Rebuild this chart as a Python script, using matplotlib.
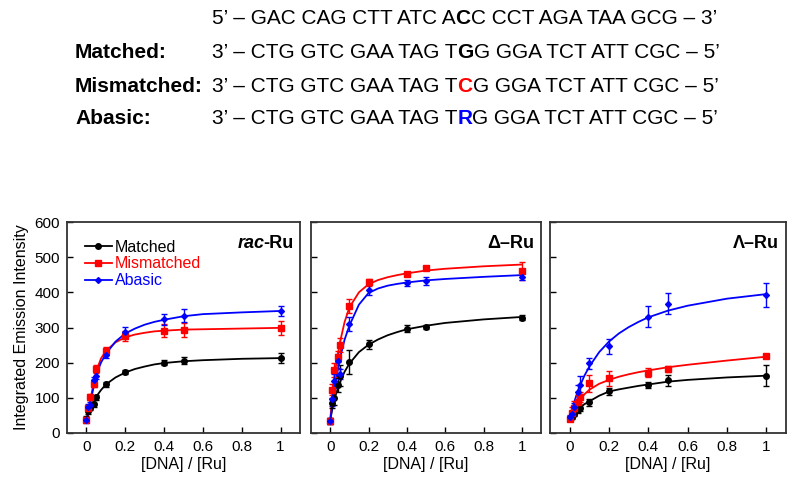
import matplotlib
matplotlib.use("Agg")
import matplotlib.pyplot as plt
from matplotlib.lines import Line2D

plt.rcParams['font.family'] = ['Liberation Sans', 'DejaVu Sans']

# ratio [DNA]/[Ru] for measured points
ratio = [0, 0.01, 0.02, 0.04, 0.05, 0.1, 0.2, 0.4, 0.5, 1.0]
fit_ratio = [0, 0.01, 0.02, 0.03, 0.05, 0.075, 0.1, 0.15, 0.2, 0.25, 0.3, 0.35, 0.4, 0.5, 0.6, 0.8, 1.0]

# rac-Ru
rac_matched = [40, 62, 72, 83, 101, 138, 173, 200, 205, 213]
rac_matched_err = [8, 8, 8, 10, 8, 6, 5, 8, 10, 15]
rac_mismatched = [38, 70, 102, 140, 182, 234, 276, 291, 293, 298]
rac_mismatched_err = [8, 8, 8, 10, 10, 10, 15, 18, 20, 20]
rac_abasic = [36, 74, 80, 150, 163, 223, 287, 323, 334, 347]
rac_abasic_err = [8, 8, 8, 10, 10, 10, 15, 15, 18, 15]
rac_matched_fit = [38, 55, 70, 83, 103, 122, 138, 158, 172, 182, 189, 195, 199, 204, 207, 211, 213]
rac_mismatched_fit = [35, 60, 92, 122, 175, 212, 233, 258, 272, 280, 285, 289, 291, 294, 295, 297, 299]
rac_abasic_fit = [35, 58, 85, 112, 165, 200, 225, 260, 283, 297, 308, 316, 322, 332, 338, 343, 347]

# Delta-Ru
delta_matched = [35, 85, 100, 137, 163, 202, 252, 297, 302, 328]
delta_matched_err = [8, 15, 20, 20, 30, 35, 12, 10, 5, 8]
delta_mismatched = [35, 123, 178, 217, 251, 360, 428, 451, 468, 461]
delta_mismatched_err = [8, 15, 20, 15, 20, 20, 10, 5, 5, 25]
delta_abasic = [35, 97, 147, 204, 168, 309, 408, 426, 432, 445]
delta_abasic_err = [8, 20, 20, 20, 15, 20, 15, 8, 12, 10]
delta_matched_fit = [35, 65, 89, 110, 143, 174, 197, 230, 251, 266, 278, 287, 295, 305, 313, 323, 330]
delta_mismatched_fit = [35, 100, 150, 190, 255, 315, 357, 400, 423, 435, 443, 449, 454, 462, 467, 474, 479]
delta_abasic_fit = [35, 75, 115, 150, 210, 265, 305, 365, 398, 411, 419, 424, 428, 434, 438, 444, 449]

# Lambda-Ru
lambda_matched = [42, 46, 55, 66, 71, 88, 119, 136, 150, 163]
lambda_matched_err = [6, 6, 8, 8, 8, 10, 10, 8, 16, 30]
lambda_mismatched = [41, 58, 70, 89, 102, 141, 155, 172, 182, 220]
lambda_mismatched_err = [6, 15, 20, 20, 15, 25, 20, 14, 8, 5]
lambda_abasic = [45, 55, 74, 117, 136, 198, 246, 331, 367, 393]
lambda_abasic_err = [6, 8, 10, 20, 25, 15, 20, 29, 30, 34]
lambda_matched_fit = [40, 48, 55, 62, 72, 82, 90, 106, 118, 124, 129, 134, 138, 146, 151, 158, 163]
lambda_mismatched_fit = [40, 52, 63, 73, 92, 110, 123, 140, 151, 160, 167, 173, 178, 187, 194, 206, 217]
lambda_abasic_fit = [40, 62, 82, 100, 131, 163, 189, 230, 260, 283, 301, 316, 329, 348, 362, 382, 395]

series_names = ['Matched', 'Mismatched', 'Abasic']
colors = ['black', '#ff0000', '#0000ff']
markers = ['o', 's', 'D']
msizes = [4, 5, 3]

panels = [
    ('rac', [(rac_matched, rac_matched_err, rac_matched_fit),
             (rac_mismatched, rac_mismatched_err, rac_mismatched_fit),
             (rac_abasic, rac_abasic_err, rac_abasic_fit)]),
    ('\u0394\u2013Ru', [(delta_matched, delta_matched_err, delta_matched_fit),
                        (delta_mismatched, delta_mismatched_err, delta_mismatched_fit),
                        (delta_abasic, delta_abasic_err, delta_abasic_fit)]),
    ('\u039b\u2013Ru', [(lambda_matched, lambda_matched_err, lambda_matched_fit),
                        (lambda_mismatched, lambda_mismatched_err, lambda_mismatched_fit),
                        (lambda_abasic, lambda_abasic_err, lambda_abasic_fit)]),
]

W, H = 795, 479
fig = plt.figure(figsize=(W / 100, H / 100), dpi=100)

# panel pixel boxes (left, right)
boxes = [(67, 300), (311, 541), (550, 786)]
top, bottom = 222, 433
title_y = (bottom - 243) / (bottom - top)

for k, (title, data) in enumerate(panels):
    l, r = boxes[k]
    ax = fig.add_axes([l / W, 1 - bottom / H, (r - l) / W, (bottom - top) / H])
    for i, (y, err, fit) in enumerate(data):
        ax.plot(fit_ratio, fit, color=colors[i], lw=1.3, zorder=2)
        ax.errorbar(ratio, y, yerr=err, fmt=markers[i], color=colors[i], ms=msizes[i],
                    capsize=2.5, elinewidth=1, capthick=1, zorder=3)
    ax.set_xlim(-0.1, 1.1)
    ax.set_ylim(0, 600)
    ax.set_xticks([0, 0.2, 0.4, 0.6, 0.8, 1])
    ax.set_xticklabels(['0', '0.2', '0.4', '0.6', '0.8', '1'])
    ax.set_yticks([0, 100, 200, 300, 400, 500, 600])
    ax.tick_params(direction='in', length=4, width=1, labelsize=11, pad=5)
    for s in ax.spines.values():
        s.set_linewidth(1.3)
        s.set_color('#333333')
    ax.set_xlabel('[DNA] / [Ru]', fontsize=11.5, labelpad=2)
    if k == 0:
        ax.set_ylabel('Integrated Emission Intensity', fontsize=11.5, labelpad=4)
        t = ax.text(0.97, title_y, '-Ru', transform=ax.transAxes, ha='right', va='center',
                    fontsize=13, fontweight='bold')
        ax.annotate('rac', xy=(0, 0), xycoords=t, xytext=(1.5, 0), textcoords='offset points',
                    ha='right', va='bottom', fontsize=13, fontweight='bold', fontstyle='italic')
        handles = [Line2D([], [], color=colors[i], marker=markers[i], ms=msizes[i], lw=1.3)
                   for i in range(3)]
        ax.legend(handles, series_names, loc='upper left', frameon=False, fontsize=11.5,
                  handlelength=1.7, handletextpad=0.2, labelspacing=0.12,
                  borderaxespad=0.9, borderpad=0.2, labelcolor=colors)
    else:
        ax.set_yticklabels([])
        ax.text(0.97, title_y, title, transform=ax.transAxes, ha='right', va='center',
                fontsize=13, fontweight='bold')

# sequence block on top
seq_rows = [
    ('', ['5\u2019 \u2013 GAC CAG CTT ATC A', 'C', 'C CCT AGA TAA GCG \u2013 3\u2019'], 'black'),
    ('Matched:', ['3\u2019 \u2013 CTG GTC GAA TAG T', 'G', 'G GGA TCT ATT CGC \u2013 5\u2019'], 'black'),
    ('Mismatched:', ['3\u2019 \u2013 CTG GTC GAA TAG T', 'C', 'G GGA TCT ATT CGC \u2013 5\u2019'], '#ff0000'),
    ('Abasic:', ['3\u2019 \u2013 CTG GTC GAA TAG T', 'R', 'G GGA TCT ATT CGC \u2013 5\u2019'], '#0000ff'),
]
row_y = [19, 53, 86, 119]
fs = 15
for (label, parts, hl), yy in zip(seq_rows, row_y):
    yf = 1 - yy / H
    if label:
        fig.text(75 / W, yf, label, fontsize=fs, fontweight='bold', va='center')
    t1 = fig.text(212 / W, yf, parts[0], fontsize=fs, va='center')
    b2 = fig.add_artist(plt.Annotation(parts[1], xy=(1, 0), xycoords=t1, ha='left', va='bottom',
                                       fontsize=fs, fontweight='bold', color=hl,
                                       annotation_clip=False))
    fig.add_artist(plt.Annotation(parts[2], xy=(1, 0), xycoords=b2, ha='left', va='bottom',
                                  fontsize=fs, annotation_clip=False))

fig.savefig('out.png', dpi=100)
